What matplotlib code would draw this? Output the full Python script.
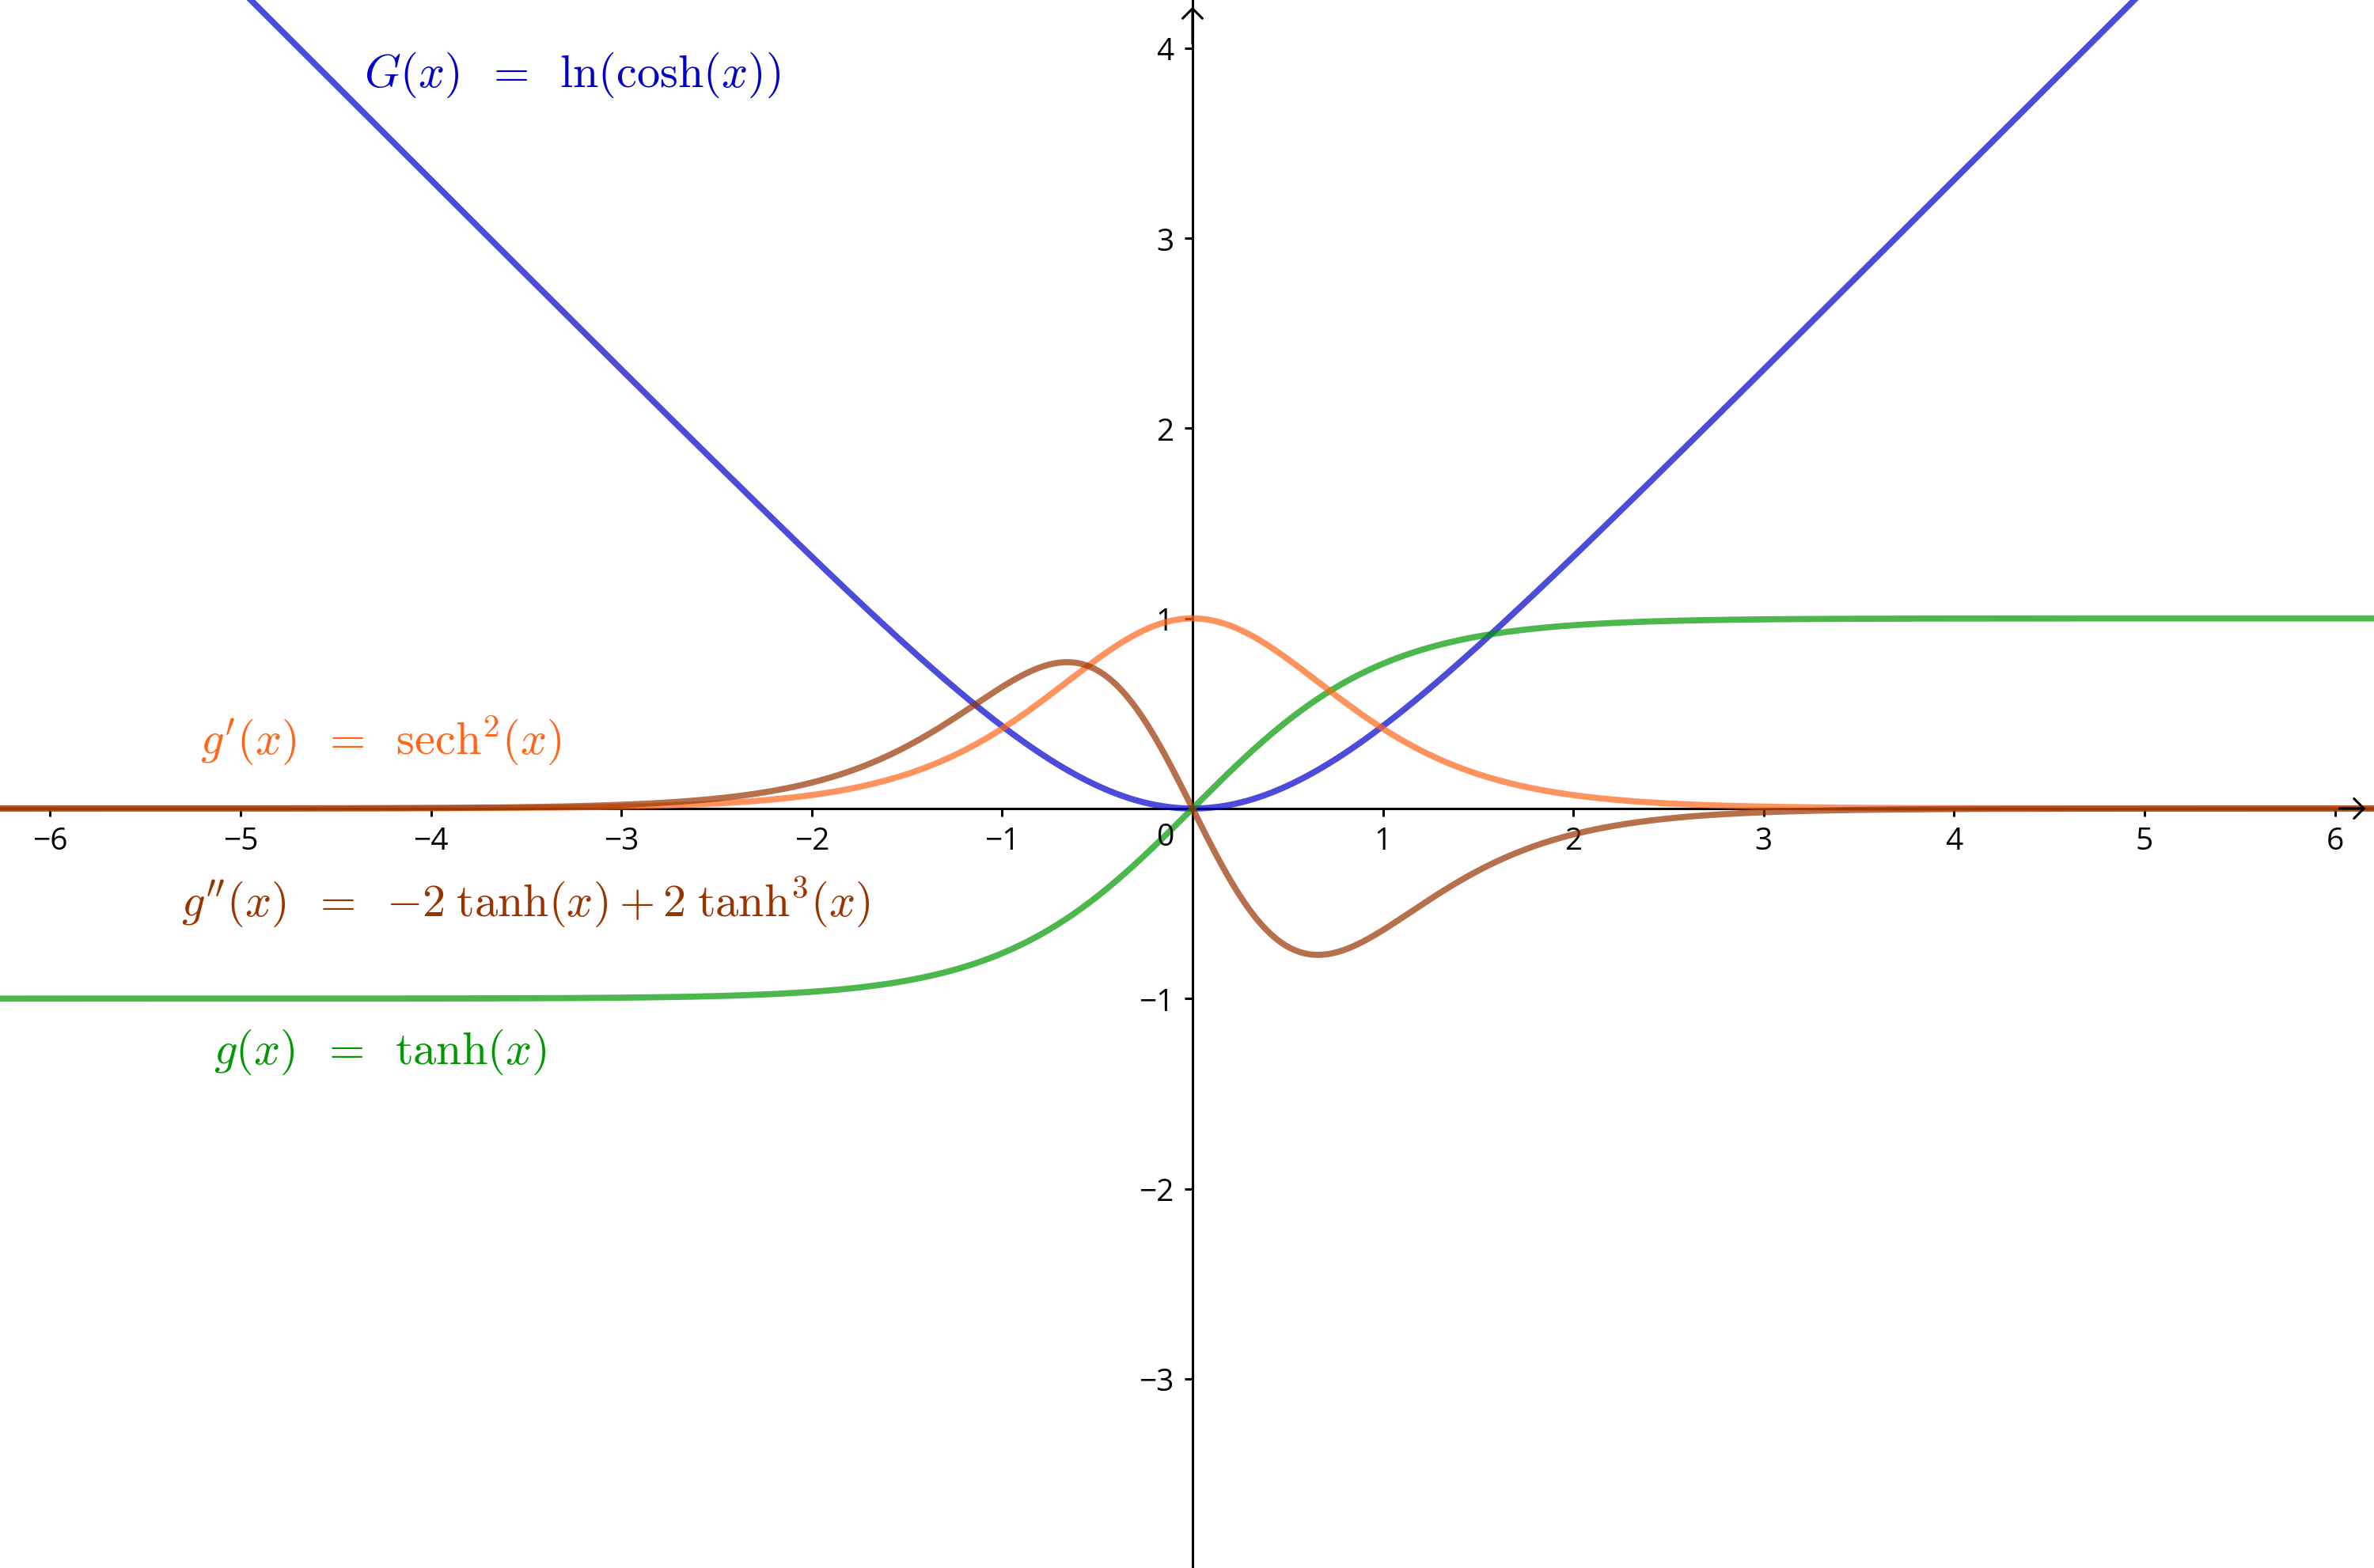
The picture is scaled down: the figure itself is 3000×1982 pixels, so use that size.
import numpy as np
import matplotlib
matplotlib.use("Agg")
import matplotlib.pyplot as plt

plt.rcParams['mathtext.fontset'] = 'cm'
plt.rcParams['font.family'] = ['Open Sans', 'DejaVu Sans']

# function samples (the chart plots these analytic curves)
x = np.linspace(-6.4, 6.4, 2001)
G = np.log(np.cosh(x))                    # G(x) = ln(cosh(x))
g = np.tanh(x)                            # g(x) = tanh(x)
g1 = 1.0 / np.cosh(x) ** 2                # g'(x) = sech^2(x)
g2 = -2 * np.tanh(x) + 2 * np.tanh(x) ** 3  # g''(x)

xticks = [-6, -5, -4, -3, -2, -1, 1, 2, 3, 4, 5, 6]
yticks = [-3, -2, -1, 1, 2, 3, 4]

labels = [
    (r'$G(x)\;\;=\;\;\ln(\cosh(x))$', '#0000cc', -4.35, 3.80),
    (r"$g'(x)\;\;=\;\;\mathrm{sech}^2(x)$", '#ff6619', -5.21, 0.29),
    (r"$g''(x)\;\;=\;\;{-2}\;\mathrm{tanh}(x)+2\;\mathrm{tanh}^3(x)$", '#993300', -5.31, -0.56),
    (r'$g(x)\;\;=\;\;\mathrm{tanh}(x)$', '#009900', -5.14, -1.34),
]

fig = plt.figure(figsize=(15, 9.915), dpi=200)
ax = fig.add_axes([0, 0, 1, 1])
ax.set_xlim(-6.263, 6.205)
ax.set_ylim(-3.995, 4.257)

lw = 2.8
ax.plot(x, G, color='#0000cc', alpha=0.7, lw=lw, zorder=3)
ax.plot(x, g, color='#009900', alpha=0.7, lw=lw, zorder=3)
ax.plot(x, g1, color='#ff6619', alpha=0.7, lw=lw, zorder=3)
ax.plot(x, g2, color='#993300', alpha=0.7, lw=lw, zorder=3)

for s in ['top', 'right']:
    ax.spines[s].set_visible(False)
for s in ['left', 'bottom']:
    ax.spines[s].set_position(('data', 0))
    ax.spines[s].set_linewidth(1.1)
    ax.spines[s].set_zorder(1)

ax.set_xticks(xticks)
ax.set_yticks(yticks)
ax.set_xticklabels([f'{t}'.replace('-', '\u2212') for t in xticks])
ax.set_yticklabels([f'{t}'.replace('-', '\u2212') for t in yticks])
ax.tick_params(axis='x', direction='out', length=3.6, width=1.1, pad=4.3, labelsize=14)
ax.tick_params(axis='y', direction='out', length=3.6, width=1.1, pad=5, labelsize=14)
ax.text(-0.14, -0.07, '0', ha='center', va='top', fontsize=14)

# axis arrows
ax.annotate('', xy=(6.184, 0), xytext=(6.0, 0),
            arrowprops=dict(arrowstyle='->,head_length=0.45,head_width=0.45', lw=1.1, color='black'))
ax.annotate('', xy=(0, 4.24), xytext=(0, 4.0),
            arrowprops=dict(arrowstyle='->,head_length=0.45,head_width=0.45', lw=1.1, color='black'))

for txt, col, tx, ty in labels:
    ax.text(tx, ty, txt, color=col, fontsize=21, ha='left', va='baseline')

fig.savefig('out.png', dpi=200)
